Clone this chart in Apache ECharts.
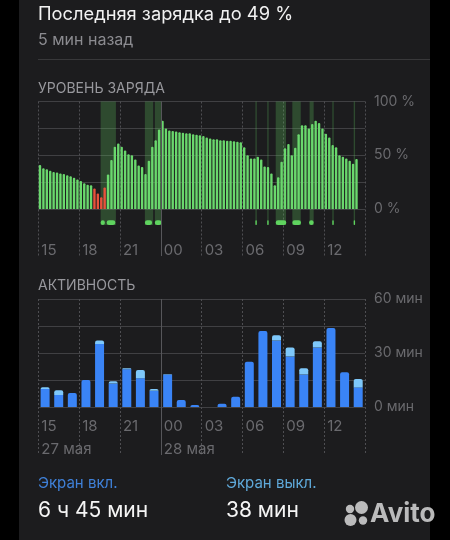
<!DOCTYPE html>
<html><head><meta charset="utf-8">
<script src="https://cdn.jsdelivr.net/npm/echarts@6/dist/echarts.min.js"></script>
<style>html,body{margin:0;padding:0;background:#000;}#c{width:450px;height:540px;}</style>
</head><body><div id="c"></div>
<script>
// ---------- DATA ----------
// battery level per 15 min, starting 27 May 15:00 (96 slots)
const batteryLevels = [
  41, 38, 37, 35.5, 34.5, 34, 33, 32.5, 31.5, 30.5, 29, 27.5,
  26, 24, 22.5, 22, 19, 14.5, 11, 20, 32, 45.5, 58, 61,
  58, 54.5, 51, 50, 46, 40.5, 39, 32.5, 45, 58, 64, 74,
  82, 75, 73, 72.5, 72, 71.5, 71, 70.5, 70.5, 69.5, 69, 68.5,
  68, 66.5, 65.5, 65, 65, 64, 64, 63.5, 63.5, 63, 62.5, 62,
  57.5, 50, 47, 47, 48.5, 46, 39.5, 39, 33, 22, 29.5, 44,
  56.5, 60.5, 50, 57, 69.5, 78, 78, 75, 79, 82, 80, 75,
  70, 66.5, 59.5, 57.5, 50, 48.5, 47, 45, 42, 46.5, null, null
];
const lowBatteryThreshold = 20;
// charging periods, in hours after 27 May 15:00
const chargeColumnStart = [4.58, 7.83, 8.56, 15.95, 16.82, 17.44, 18.66, 19.93, 21.6, 23.17];
const chargeColumnEnd   = [5.70, 8.44, 9.02, 16.05, 16.92, 18.20, 19.28, 20.23, 21.7, 23.27];
const chargePillStart = [4.58, 5.02, 7.83, 8.56, 15.95, 16.82, 17.44, 18.66, 19.89, 21.6, 23.17];
const chargePillEnd   = [4.89, 5.66, 8.36, 9.05, 16.05, 16.92, 18.22, 19.30, 20.23, 21.7, 23.27];
// activity per hour (minutes), starting 15:00
const screenOn  = [10, 6.7, 7.8, 15, 35, 13, 21, 16, 9, 18, 3.9, 1.1, 0, 1.8, 5.7, 25.2, 42.2, 36.9, 28, 18, 33, 43.9, 19.3, 10.9];
const screenOff = [1, 2.6, 0, 0, 1.9, 1.3, 0.5, 4.6, 1, 0.4, 0, 0, 0, 0, 0, 0, 0, 2.9, 5, 3.5, 3.5, 0, 0, 4.7];
// tick labels
const hourLabels = ['15', '18', '21', '00', '03', '06', '09', '12'];
const dateLabels = ['27 мая', '28 мая'];
const dateLabelHours = [0, 9];
const batteryTickValues = [0, 50, 100];
const batteryTickLabels = ['0 %', '50 %', '100 %'];
const activityTickValues = [0, 30, 60];
const activityTickLabels = ['0 мин', '30 мин', '60 мин'];

// ---------- STYLE ----------
const FONT = 'Inter, "Noto Sans", sans-serif';
const GREEN = '#6ad86d', RED = '#e8513c';
const BLUE = '#3a84f6', LIGHTBLUE = '#7ec8fa';
const GRIDC = '#404043', VLINE = '#4e4e52', TICKC = '#6a6a6e';
const L = 38.3, W = 326.7;

const chart = echarts.init(document.getElementById('c'), null, {renderer: 'canvas'});

const hourFmt = v => (v % 3 === 0 && hourLabels[v / 3] !== undefined) ? hourLabels[v / 3] : '';
const dateFmt = v => { const i = dateLabelHours.indexOf(v); return i >= 0 ? dateLabels[i] : ''; };
const tickFmt = (vals, labs) => v => { const i = vals.indexOf(v); return i >= 0 ? labs[i] : ''; };

function overlayX(grid, fmt, showLines) {
  return {
    type: 'value', gridIndex: grid, min: 0, max: 24, interval: 3,
    axisLine: {show: false}, axisTick: {show: false},
    splitLine: {show: showLines, lineStyle: {color: VLINE, type: [2, 2], width: 1}},
    axisLabel: fmt ? {show: true, inside: true, margin: -2, formatter: fmt, align: 'left', padding: [0, 0, 0, 3],
      color: TICKC, fontSize: 15, fontFamily: FONT, showMaxLabel: false} : {show: false}
  };
}
const hiddenY = g => ({type: 'value', gridIndex: g, min: 0, max: 1, show: false});

function rangeRender(isPill) {
  return function (params, api) {
    const a = api.coord([api.value(0), 1]);
    const b = api.coord([api.value(1), 0]);
    const w = Math.max(1.2, b[0] - a[0]);
    if (!isPill) {
      return {type: 'rect', shape: {x: a[0], y: a[1], width: w, height: b[1] - a[1]},
        style: {fill: 'rgba(95,200,95,0.27)'}};
    }
    const h = 4.7;
    return {type: 'rect', shape: {x: a[0], y: b[1] - h, width: w, height: h, r: Math.min(h / 2, w / 2)},
      style: {fill: '#5fd35f'}};
  };
}

const option = {
  backgroundColor: '#1c1c1e',
  animation: false,
  grid: [
    {left: L, width: W, top: 101.5, height: 107.5},
    {left: L, width: W, top: 101.5, height: 154.5},
    {left: L, width: W, top: 101.5, height: 123.5},
    {left: L, width: W, top: 299, height: 108},
    {left: L, width: W, top: 299, height: 133},
    {left: L, width: W, top: 299, height: 156}
  ],
  xAxis: [
    {type: 'category', gridIndex: 0, data: batteryLevels.map((_, i) => i), show: false},
    overlayX(1, hourFmt, true),
    {type: 'value', gridIndex: 2, min: 0, max: 24, show: false},
    {type: 'category', gridIndex: 3, data: screenOn.map((_, i) => i), show: false},
    overlayX(4, hourFmt, false),
    overlayX(5, dateFmt, true)
  ],
  yAxis: [
    {type: 'value', gridIndex: 0, min: 0, max: 100, interval: 25, position: 'right',
      axisLine: {show: false}, axisTick: {show: false},
      splitLine: {lineStyle: {color: GRIDC, width: 1}},
      axisLabel: {margin: 9, formatter: tickFmt(batteryTickValues, batteryTickLabels), color: TICKC, fontSize: 14, fontFamily: FONT}},
    hiddenY(1), hiddenY(2),
    {type: 'value', gridIndex: 3, min: 0, max: 60, interval: 15, position: 'right',
      axisLine: {show: false}, axisTick: {show: false},
      splitLine: {lineStyle: {color: GRIDC, width: 1}},
      axisLabel: {margin: 9, formatter: tickFmt(activityTickValues, activityTickLabels), color: TICKC, fontSize: 14, fontFamily: FONT}},
    hiddenY(4), hiddenY(5)
  ],
  series: [
    {type: 'custom', xAxisIndex: 2, yAxisIndex: 2, z: 1, silent: true,
      renderItem: rangeRender(false), encode: {x: [0, 1]},
      data: chargeColumnStart.map((s, i) => [s, chargeColumnEnd[i]])},
    {type: 'bar', xAxisIndex: 0, yAxisIndex: 0, z: 2, barWidth: '70%', silent: true,
      data: batteryLevels,
      itemStyle: {borderRadius: [1, 1, 0, 0],
        color: p => (p.value != null && p.value <= lowBatteryThreshold) ? RED : GREEN}},
    {type: 'custom', xAxisIndex: 2, yAxisIndex: 2, z: 3, silent: true,
      renderItem: rangeRender(true), encode: {x: [0, 1]},
      data: chargePillStart.map((s, i) => [s, chargePillEnd[i]])},
    {type: 'line', xAxisIndex: 1, yAxisIndex: 1, data: [], silent: true,
      markLine: {silent: true, symbol: 'none', label: {show: false},
        lineStyle: {type: 'solid', color: '#56565a', width: 1}, data: [{xAxis: dateLabelHours[1]}]}},
    {name: 'Экран вкл.', type: 'bar', xAxisIndex: 3, yAxisIndex: 3, stack: 'a', barWidth: 9, silent: true,
      data: screenOn.map((v, i) => ({value: v, itemStyle: {borderRadius: screenOff[i] > 0 ? 0 : [2, 2, 0, 0]}})),
      itemStyle: {color: BLUE}},
    {name: 'Экран выкл.', type: 'bar', xAxisIndex: 3, yAxisIndex: 3, stack: 'a', barWidth: 9, silent: true,
      data: screenOff, itemStyle: {color: LIGHTBLUE, borderRadius: [2, 2, 0, 0]}},
    {type: 'line', xAxisIndex: 5, yAxisIndex: 5, data: [], silent: true,
      markLine: {silent: true, symbol: 'none', label: {show: false},
        lineStyle: {type: 'solid', color: '#56565a', width: 1}, data: [{xAxis: dateLabelHours[1]}]}}
  ],
  graphic: [
    {type: 'rect', shape: {x: 0, y: 0, width: 19, height: 540}, style: {fill: '#000'}},
    {type: 'rect', shape: {x: 430, y: 0, width: 20, height: 540}, style: {fill: '#000'}},
    {type: 'line', shape: {x1: 38, y1: 59.5, x2: 430, y2: 59.5}, style: {stroke: '#38383a', lineWidth: 1}},
    {type: 'text', style: {text: 'Последняя зарядка до 49 %', x: 38, y: 15, verticalAlign: 'middle',
      font: '18.3px ' + FONT, fill: '#f2f2f2'}},
    {type: 'text', style: {text: '5 мин назад', x: 38, y: 40, verticalAlign: 'middle',
      font: '16px ' + FONT, fill: '#8b8b90'}},
    {type: 'text', style: {text: 'УРОВЕНЬ ЗАРЯДА', x: 38, y: 88.5, verticalAlign: 'middle',
      font: '14px ' + FONT, fill: '#98989d'}},
    {type: 'text', style: {text: 'АКТИВНОСТЬ', x: 38, y: 286, verticalAlign: 'middle',
      font: '14px ' + FONT, fill: '#98989d'}},
    {type: 'text', style: {text: 'Экран вкл.', x: 38, y: 483, verticalAlign: 'middle',
      font: '15px ' + FONT, fill: '#3f80d8'}},
    {type: 'text', style: {text: '6 ч 45 мин', x: 38, y: 511, verticalAlign: 'middle',
      font: '21px ' + FONT, fill: '#f5f5f5'}},
    {type: 'text', style: {text: 'Экран выкл.', x: 226, y: 483, verticalAlign: 'middle',
      font: '15px ' + FONT, fill: '#5fa9da'}},
    {type: 'text', style: {text: '38 мин', x: 226, y: 511, verticalAlign: 'middle',
      font: '21px ' + FONT, fill: '#f5f5f5'}},
    {type: 'circle', shape: {cx: 350, cy: 509, r: 4.2}, style: {fill: 'rgba(205,205,205,0.9)'}},
    {type: 'circle', shape: {cx: 361.5, cy: 507.5, r: 6.5}, style: {fill: 'rgba(205,205,205,0.9)'}},
    {type: 'circle', shape: {cx: 350.5, cy: 520, r: 6}, style: {fill: 'rgba(205,205,205,0.9)'}},
    {type: 'circle', shape: {cx: 363, cy: 520.5, r: 4.2}, style: {fill: 'rgba(205,205,205,0.9)'}},
    {type: 'text', style: {text: 'Avito', x: 370, y: 514, verticalAlign: 'middle',
      font: 'bold 26px ' + FONT, fill: 'rgba(205,205,205,0.9)'}}
  ]
};
chart.setOption(option);
</script>
</body></html>
